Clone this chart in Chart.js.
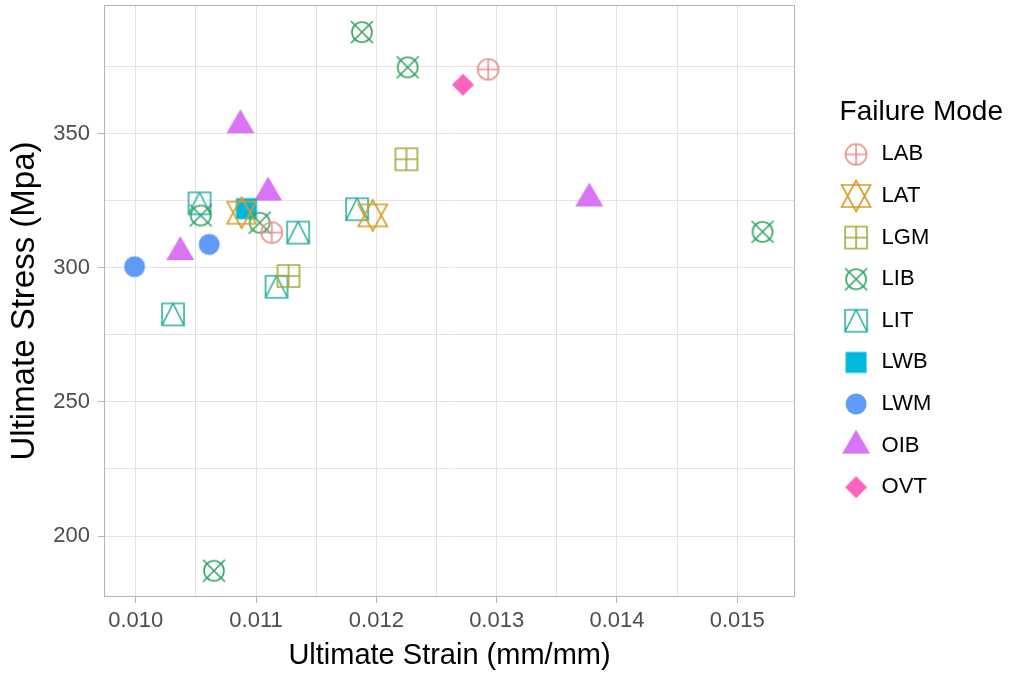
<!DOCTYPE html>
<html>
<head>
<meta charset="utf-8">
<script src="https://cdn.jsdelivr.net/npm/chart.js@4.4.0/dist/chart.umd.min.js"></script>
<style>
  html, body { margin: 0; padding: 0; background: #fff; }
  #wrap { width: 1010px; height: 674px; }
</style>
</head>
<body>
<div id="wrap"><canvas id="failChart"></canvas></div>
<script>
// failure modes and their (slightly muted) ggplot hue colours
const modes = ['LAB', 'LAT', 'LGM', 'LIB', 'LIT', 'LWB', 'LWM', 'OIB', 'OVT'];
const modeColors = ['#E8918C', '#D29E2A', '#A5A83A', '#34A462', '#2BB0A2', '#00B8DE', '#5F9CFA', '#D874F5', '#FB63BE'];
const modeShapes = ['circlePlus', 'star', 'squarePlus', 'circleCross', 'squareTriangle', 'square', 'circle', 'triangle', 'diamond'];

// ultimate strain (mm/mm) per mode
const labStrain = [0.01113, 0.01293];
const latStrain = [0.01088, 0.01197];
const lgmStrain = [0.01225, 0.01127];
const libStrain = [0.01188, 0.01226, 0.01054, 0.01103, 0.01065, 0.01521];
const litStrain = [0.01053, 0.01135, 0.01184, 0.01117, 0.01031];
const lwbStrain = [0.01092];
const lwmStrain = [0.00999, 0.01061];
const oibStrain = [0.01087, 0.01110, 0.01037, 0.01377];
const ovtStrain = [0.01272];

// ultimate stress (MPa) per mode
const labStress = [313.1, 373.9];
const latStress = [320.5, 319.5];
const lgmStress = [340.4, 296.9];
const libStress = [387.8, 374.7, 319.5, 316.8, 187.1, 313.4];
const litStress = [324.0, 313.1, 321.8, 292.9, 282.6];
const lwbStress = [322.0];
const lwmStress = [300.4, 308.7];
const oibStress = [353.1, 328.0, 305.8, 325.8];
const ovtStress = [368.2];

// axis ticks
const xTicks = [0.010, 0.011, 0.012, 0.013, 0.014, 0.015];
const xMinor = [0.0105, 0.0115, 0.0125, 0.0135, 0.0145];
const yTicks = [200, 250, 300, 350];
const yMinor = [225, 275, 325, 375];

const strainByMode = [labStrain, latStrain, lgmStrain, libStrain, litStrain, lwbStrain, lwmStrain, oibStrain, ovtStrain];
const stressByMode = [labStress, latStress, lgmStress, libStress, litStress, lwbStress, lwmStress, oibStress, ovtStress];

const FONT = "'Liberation Sans', Arial, sans-serif";

// draw a ggplot-like marker into a small canvas
function makeMarker(kind, color) {
  const c = document.createElement('canvas');
  c.width = 36; c.height = 36;
  const g = c.getContext('2d');
  g.translate(18, 18);
  g.strokeStyle = color;
  g.fillStyle = color;
  g.lineWidth = 1.6;
  g.beginPath();
  switch (kind) {
    case 'circlePlus':
      g.arc(0, 0, 10.5, 0, Math.PI * 2);
      g.moveTo(-10.5, 0); g.lineTo(10.5, 0);
      g.moveTo(0, -10.5); g.lineTo(0, 10.5);
      g.stroke();
      break;
    case 'star':
      g.moveTo(0, -15.5); g.lineTo(14.5, 11); g.lineTo(-14.5, 11); g.closePath();
      g.moveTo(0, 15.5); g.lineTo(14.5, -11); g.lineTo(-14.5, -11); g.closePath();
      g.stroke();
      break;
    case 'squarePlus':
      g.rect(-11, -11, 22, 22);
      g.moveTo(-11, 0); g.lineTo(11, 0);
      g.moveTo(0, -11); g.lineTo(0, 11);
      g.stroke();
      break;
    case 'circleCross':
      g.arc(0, 0, 10, 0, Math.PI * 2);
      g.moveTo(-11, -11); g.lineTo(11, 11);
      g.moveTo(-11, 11); g.lineTo(11, -11);
      g.stroke();
      break;
    case 'squareTriangle':
      g.rect(-11, -11, 22, 22);
      g.moveTo(0, -11); g.lineTo(11, 11); g.lineTo(-11, 11); g.closePath();
      g.stroke();
      break;
    case 'square':
      g.rect(-10.5, -10.5, 21, 21);
      g.fill();
      break;
    case 'circle':
      g.arc(0, 0, 10.5, 0, Math.PI * 2);
      g.fill();
      break;
    case 'triangle':
      g.moveTo(0, -16); g.lineTo(14, 8); g.lineTo(-14, 8); g.closePath();
      g.fill();
      break;
    case 'diamond':
      g.moveTo(0, -11); g.lineTo(11, 0); g.lineTo(0, 11); g.lineTo(-11, 0); g.closePath();
      g.fill();
      break;
  }
  return c;
}

const datasetArray = modes.map((m, i) => ({
  label: m,
  data: strainByMode[i].map((x, j) => ({ x: x, y: stressByMode[i][j] })),
  pointStyle: makeMarker(modeShapes[i], modeColors[i]),
  backgroundColor: modeColors[i],
  borderColor: modeColors[i],
  showLine: false
}));

// grey70 box around the panel
const panelBorder = {
  id: 'panelBorder',
  beforeDatasetsDraw(chart) {
    const a = chart.chartArea;
    const ctx = chart.ctx;
    ctx.save();
    ctx.strokeStyle = '#B3B3B3';
    ctx.lineWidth = 1;
    ctx.strokeRect(a.left + 0.5, a.top + 0.5, a.right - a.left - 1, a.bottom - a.top - 1);
    ctx.restore();
  }
};

// legend box is only as wide as its items; widen it so the title fits
const LEGEND_WIDTH = 181;
const legendWidth = {
  id: 'legendWidth',
  beforeLayout(chart) {
    const lg = chart.legend;
    if (lg && !lg._widened) {
      const fit = lg.fit;
      lg.fit = function () {
        fit.call(this);
        this.width = Math.max(this.width, LEGEND_WIDTH);
      };
      lg._widened = true;
    }
  }
};

const isMajor = (list, v) => list.some(t => Math.abs(t - v) < 1e-9);

const config = {
  type: 'scatter',
  data: { datasets: datasetArray },
  options: {
    responsive: true,
    maintainAspectRatio: false,
    animation: false,
    layout: { padding: { top: 5, left: 0, right: 7, bottom: 0 } },
    plugins: {
      tooltip: { enabled: false },
      legend: {
        position: 'right',
        align: 'start',
        title: {
          display: true,
          text: 'Failure Mode',
          position: 'end',
          color: '#000',
          font: { family: FONT, size: 28, lineHeight: 0.85 },
          padding: { top: 93, bottom: 2 }
        },
        labels: {
          usePointStyle: true,
          pointStyleWidth: 29,
          padding: 19.6,
          color: '#000',
          font: { family: FONT, size: 22 }
        }
      }
    },
    scales: {
      x: {
        type: 'linear',
        min: 0.009736,
        max: 0.015480,
        afterBuildTicks: s => { s.ticks = xTicks.concat(xMinor).sort((a, b) => a - b).map(v => ({ value: v })); },
        afterFit: s => { s.height = 77; s.paddingLeft = 0; s.paddingRight = 0; },
        border: { display: false },
        grid: {
          color: '#E4E4E4',
          tickLength: 6,
          tickColor: ctx => isMajor(xTicks, ctx.tick.value) ? '#B3B3B3' : 'rgba(0,0,0,0)'
        },
        ticks: {
          color: '#4D4D4D',
          padding: 5,
          maxRotation: 0,
          autoSkip: false,
          font: { family: FONT, size: 22 },
          callback: v => isMajor(xTicks, v) ? v.toFixed(3) : ''
        },
        title: {
          display: true,
          text: 'Ultimate Strain (mm/mm)',
          color: '#000',
          font: { family: FONT, size: 29 },
          padding: { top: 0, bottom: 1 }
        }
      },
      y: {
        type: 'linear',
        min: 177.3,
        max: 397.9,
        afterBuildTicks: s => { s.ticks = yTicks.concat(yMinor).sort((a, b) => a - b).map(v => ({ value: v })); },
        afterFit: s => { s.width = 104; s.paddingTop = 0; s.paddingBottom = 0; },
        border: { display: false },
        grid: {
          color: '#E4E4E4',
          tickLength: 6,
          tickColor: ctx => isMajor(yTicks, ctx.tick.value) ? '#B3B3B3' : 'rgba(0,0,0,0)'
        },
        ticks: {
          color: '#4D4D4D',
          padding: 8,
          autoSkip: false,
          font: { family: FONT, size: 22 },
          callback: v => isMajor(yTicks, v) ? String(v) : ''
        },
        title: {
          display: true,
          text: 'Ultimate Stress (Mpa)',
          color: '#000',
          font: { family: FONT, size: 33 },
          padding: { top: 5, bottom: 0 }
        }
      },
      // empty strip between panel and legend
      gap: {
        type: 'linear',
        position: 'right',
        display: true,
        grid: { display: false },
        border: { display: false },
        ticks: { display: false },
        afterFit: s => { s.width = 27; }
      }
    }
  },
  plugins: [panelBorder, legendWidth]
};

const failChart = new Chart(document.getElementById('failChart'), config);
</script>
</body>
</html>
